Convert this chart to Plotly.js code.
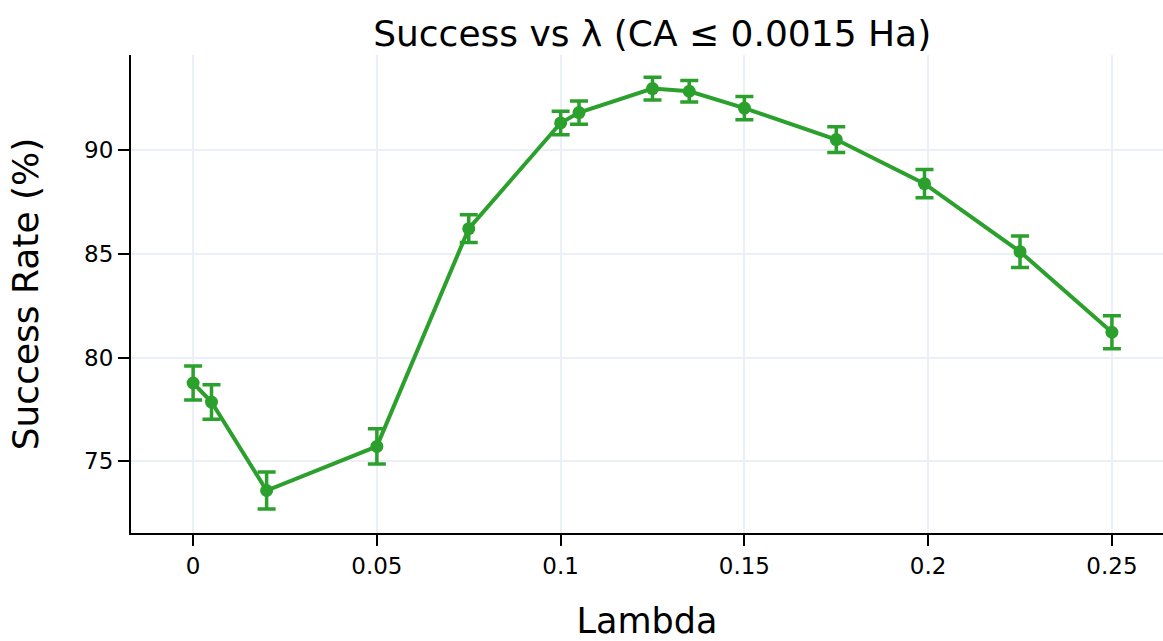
<!DOCTYPE html>
<html>
<head>
<meta charset="utf-8">
<script src="https://cdn.plot.ly/plotly-3.0.1.min.js"></script>
<style>html,body{margin:0;padding:0;background:#fff;}#chart{width:1163px;height:641px;}</style>
</head>
<body>
<div id="chart"></div>
<script>
const lambdas = [0, 0.005, 0.02, 0.05, 0.075, 0.1, 0.105, 0.125, 0.135, 0.15, 0.175, 0.199, 0.225, 0.25];
const successRate = [78.77, 77.85, 73.58, 75.71, 86.22, 91.32, 91.82, 92.98, 92.85, 92.04, 90.52, 88.39, 85.11, 81.22];
const errors = [0.82, 0.83, 0.89, 0.85, 0.67, 0.57, 0.56, 0.55, 0.52, 0.56, 0.62, 0.68, 0.76, 0.8];
const xTicks = [0, 0.05, 0.1, 0.15, 0.2, 0.25];
const xTickText = ['0', '0.05', '0.1', '0.15', '0.2', '0.25'];
const yTicks = [75, 80, 85, 90];

const font = 'DejaVu Sans, Verdana, sans-serif';
const trace = {
  x: lambdas, y: successRate, type: 'scatter', mode: 'lines+markers',
  line: {color: '#2ca02c', width: 4},
  marker: {color: '#2ca02c', size: 13},
  error_y: {type: 'data', array: errors, visible: true, color: '#2ca02c', thickness: 3.5, width: 9}
};
const layout = {
  width: 1163, height: 641,
  margin: {l: 131, r: 0, t: 55, b: 108},
  paper_bgcolor: '#fff', plot_bgcolor: '#fff',
  font: {family: font, color: '#000'},
  title: {text: 'Success vs λ (CA ≤ 0.0015 Ha)', font: {size: 36, family: font, color: '#000'}, xref: 'paper', x: 0.505, xanchor: 'center', y: 0.948, yanchor: 'middle'},
  xaxis: {
    range: [-0.0169, 0.2639], tickvals: xTicks, ticktext: xTickText,
    showline: true, linecolor: '#000', linewidth: 2, ticks: 'outside', ticklen: 11, tickwidth: 2, tickcolor: '#000',
    showgrid: true, gridcolor: '#EBF0F8', gridwidth: 2, zeroline: false,
    tickfont: {size: 23, family: font, color: '#000'},
    title: {text: 'Lambda', font: {size: 35, family: font, color: '#000'}, standoff: 33}
  },
  yaxis: {
    range: [71.53, 94.6], tickvals: yTicks,
    showline: true, linecolor: '#000', linewidth: 2, ticks: 'outside', ticklen: 11, tickwidth: 2, tickcolor: '#000',
    showgrid: true, gridcolor: '#EBF0F8', gridwidth: 2, zeroline: false,
    tickfont: {size: 23, family: font, color: '#000'},
    title: {text: 'Success Rate (%)', font: {size: 36, family: font, color: '#000'}, standoff: 35}
  },
  showlegend: false
};
Plotly.newPlot('chart', [trace], layout, {displayModeBar: false, staticPlot: true});
</script>
</body>
</html>
